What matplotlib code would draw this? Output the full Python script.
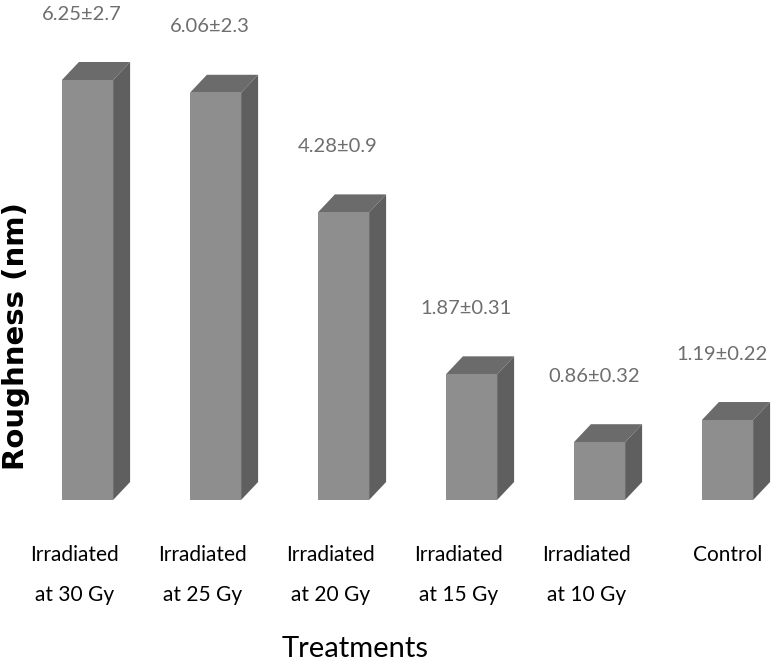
import matplotlib.pyplot as plt
from matplotlib.patches import Polygon

categories = ["Irradiated\nat 30 Gy", "Irradiated\nat 25 Gy", "Irradiated\nat 20 Gy",
              "Irradiated\nat 15 Gy", "Irradiated\nat 10 Gy", "Control"]
means = [6.25, 6.06, 4.28, 1.87, 0.86, 1.19]
value_labels = ["6.25±2.7", "6.06±2.3", "4.28±0.9", "1.87±0.31", "0.86±0.32", "1.19±0.22"]

plt.rcParams["font.family"] = ["Lato", "DejaVu Sans"]

W, H = 774, 666
fig = plt.figure(figsize=(W / 100, H / 100), dpi=100)
ax = fig.add_axes([0, 166 / H, 1, 500 / H])
px_x = 128.0  # pixels per category
px_y = 67.2   # pixels per unit
ax.set_xlim(-87.5 / px_x, (W - 87.5) / px_x)
ax.set_ylim(0, 500 / px_y)
ax.axis("off")

width = 0.4
dx = 17 / px_x
dy = 18 / px_y
front_c, top_c, side_c = "#8e8e8e", "#6b6b6b", "#5f5f5f"

x = list(range(len(means)))
bars = ax.bar(x, means, width=width, color=front_c, edgecolor="none", zorder=3)
for b, lab in zip(bars, value_labels):
    x0, x1, h = b.get_x(), b.get_x() + b.get_width(), b.get_height()
    ax.add_patch(Polygon([(x0, h), (x1, h), (x1 + dx, h + dy), (x0 + dx, h + dy)],
                         closed=True, color=top_c, lw=0, zorder=2))
    ax.add_patch(Polygon([(x1, 0), (x1 + dx, dy), (x1 + dx, h + dy), (x1, h)],
                         closed=True, color=side_c, lw=0, zorder=2))
    ax.text((x0 + x1) / 2 - 0.045, h + 66 / px_y, lab, ha="center", va="center",
            fontsize=14.5, color="#6e6e6e", clip_on=False)

for xi, cat in zip(x, categories):
    lines = cat.split("\n")
    shift = -0.1 if len(lines) > 1 else 0
    for k, line in enumerate(lines):
        ax.text(xi + shift, -(55 + 40 * k) / px_y, line, ha="center", va="center",
                fontsize=15, color="black", clip_on=False)

fig.text(355 / W, 1 - 649 / H, "Treatments", ha="center", va="center", fontsize=21)
fig.text(16 / W, 1 - 336 / H, "Roughness (nm)", ha="center", va="center", fontsize=21,
         fontweight="bold", rotation=90, family=["DejaVu Sans"])

fig.savefig("out.png", dpi=100)
